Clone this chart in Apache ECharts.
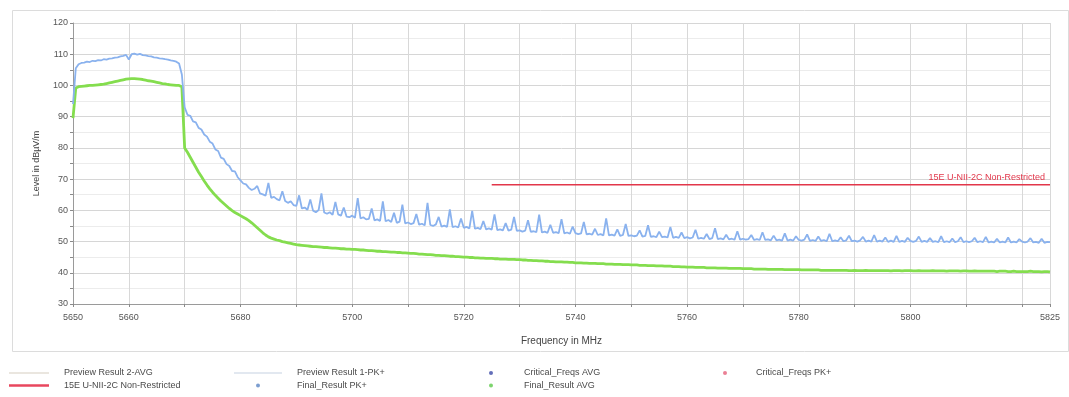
<!DOCTYPE html>
<html>
<head>
<meta charset="utf-8">
<script src="https://cdn.jsdelivr.net/npm/echarts@6/dist/echarts.min.js"></script>
<style>
  html, body { margin: 0; padding: 0; background: #ffffff; }
  #chart { width: 1069px; height: 397px; }
</style>
</head>
<body>
<div id="chart"></div>
<script>
// Frequency sweep grid (MHz): one sample every half megahertz
const freqStart = 5650;
const freqStep = 0.5;

// Labelled frequency ticks
const xTickLabels = [5650, 5660, 5680, 5700, 5720, 5740, 5760, 5780, 5800, 5825];

// Preview Result 1-PK+ (dBµV/m), 5650.0 ... 5825.0 MHz
const peakValues = [
  94.0, 105.5, 106.8, 107.2, 107.3, 107.6, 107.5, 107.9, 107.8, 108.1, 108.0, 108.4, 108.3, 108.6, 108.7, 108.9, 109.0, 109.3, 109.5, 109.8,
  108.3, 110.0, 110.2, 109.9, 110.1, 109.7, 109.6, 109.4, 109.3, 109.0, 108.9, 108.7, 108.6, 108.4, 108.3, 108.0, 107.9, 107.6, 107.0, 103.5,
  93.0, 90.6, 90.3, 88.5, 88.2, 86.4, 85.9, 84.3, 83.6, 82.0, 81.4, 79.5, 79.0, 76.9, 76.5, 74.8, 74.2, 72.6, 72.5, 70.6,
  69.6, 68.6, 68.3, 67.2, 66.5, 66.9, 67.8, 65.4, 65.1, 64.7, 68.8, 64.0, 64.3, 63.6, 63.2, 66.1, 63.0, 62.4, 62.9, 61.7,
  61.4, 64.8, 60.6, 60.9, 60.2, 63.5, 59.9, 59.4, 60.1, 65.4, 59.3, 58.9, 59.4, 58.6, 62.7, 58.7, 58.3, 60.9, 58.0, 57.8,
  58.3, 57.6, 63.9, 57.4, 57.8, 57.1, 57.3, 60.6, 56.8, 57.1, 56.6, 62.9, 56.5, 56.9, 56.3, 59.2, 56.0, 56.4, 61.8, 55.8,
  56.1, 55.6, 55.9, 58.8, 55.4, 55.7, 55.2, 62.4, 55.3, 55.0, 55.5, 57.9, 54.8, 55.1, 54.7, 60.3, 54.6, 54.9, 54.5, 57.4,
  54.4, 54.7, 54.2, 59.8, 54.1, 54.4, 54.0, 56.6, 53.9, 54.2, 53.8, 58.7, 53.7, 53.9, 53.6, 55.9, 53.5, 53.8, 57.9, 53.4,
  53.6, 53.2, 53.5, 56.8, 53.1, 53.3, 53.0, 58.6, 52.9, 53.2, 52.8, 55.4, 52.8, 53.0, 52.7, 57.2, 52.6, 52.9, 52.5, 54.8,
  52.7, 52.4, 52.6, 56.3, 52.3, 52.5, 52.2, 54.1, 52.1, 52.4, 52.0, 57.4, 52.0, 52.2, 51.9, 53.9, 51.8, 52.1, 55.6, 51.8,
  52.0, 51.7, 51.9, 53.6, 51.6, 51.8, 55.2, 51.5, 51.7, 51.4, 53.2, 51.4, 51.6, 51.3, 54.7, 51.2, 51.5, 51.2, 52.9, 51.1,
  51.4, 51.0, 51.3, 53.8, 50.9, 51.2, 50.9, 52.4, 50.8, 51.1, 54.3, 50.8, 51.0, 50.7, 52.2, 50.7, 50.9, 50.6, 53.3, 50.6,
  50.9, 50.6, 50.8, 52.1, 50.5, 50.8, 50.5, 53.0, 50.5, 50.7, 50.4, 51.9, 50.4, 50.6, 50.3, 52.6, 50.3, 50.6, 50.3, 51.7,
  50.5, 50.3, 50.6, 52.3, 50.2, 50.5, 50.2, 51.6, 50.2, 50.5, 50.1, 52.5, 50.1, 50.4, 50.1, 51.4, 50.1, 50.4, 51.9, 50.1,
  50.3, 50.0, 50.4, 51.5, 50.0, 50.3, 50.0, 52.1, 50.0, 50.3, 50.0, 51.3, 49.9, 50.3, 49.9, 51.8, 49.9, 50.2, 49.9, 51.2,
  50.2, 49.9, 50.2, 51.6, 49.9, 50.2, 49.9, 51.1, 49.9, 50.1, 49.8, 51.7, 49.8, 50.1, 49.8, 51.0, 49.8, 50.1, 51.4, 49.8,
  50.1, 49.8, 50.1, 51.2, 49.8, 50.1, 49.8, 51.5, 49.7, 50.0, 49.7, 50.9, 49.7, 50.0, 49.7, 51.3, 49.7, 50.0, 49.7, 50.8,
  50.0, 49.7, 50.0, 51.1, 49.7, 49.9, 49.6, 50.9, 49.6, 49.9, 49.8
];

// Preview Result 2-AVG (dBµV/m), 5650.0 ... 5825.0 MHz
const avgValues = [
  89.5, 99.2, 99.6, 99.7, 99.8, 99.9, 100.0, 100.0, 100.1, 100.2, 100.3, 100.4, 100.6, 100.8, 101.0, 101.2, 101.4, 101.6, 101.8, 102.0,
  102.1, 102.2, 102.2, 102.1, 102.0, 101.9, 101.7, 101.5, 101.4, 101.2, 101.0, 100.8, 100.6, 100.5, 100.3, 100.2, 100.1, 100.0, 100.0, 99.6,
  80.0, 78.6, 77.0, 75.4, 73.8, 72.2, 70.8, 69.4, 68.1, 66.9, 65.8, 64.8, 63.9, 63.0, 62.2, 61.4, 60.6, 59.9, 59.3, 58.8,
  58.3, 57.8, 57.3, 56.7, 56.0, 55.2, 54.4, 53.6, 52.8, 52.1, 51.5, 51.1, 50.8, 50.5, 50.3, 50.0, 49.8, 49.6, 49.4, 49.2,
  49.0, 48.9, 48.8, 48.7, 48.6, 48.5, 48.4, 48.4, 48.3, 48.2, 48.1, 48.1, 48.0, 47.9, 47.9, 47.8, 47.7, 47.7, 47.6, 47.6,
  47.5, 47.5, 47.4, 47.3, 47.3, 47.2, 47.1, 47.1, 47.0, 46.9, 46.9, 46.8, 46.8, 46.7, 46.6, 46.6, 46.5, 46.5, 46.4, 46.4,
  46.3, 46.2, 46.2, 46.1, 46.0, 46.0, 45.9, 45.8, 45.8, 45.7, 45.6, 45.6, 45.5, 45.5, 45.4, 45.3, 45.3, 45.2, 45.2, 45.1,
  45.0, 45.0, 44.9, 44.9, 44.8, 44.8, 44.7, 44.7, 44.6, 44.6, 44.6, 44.5, 44.5, 44.4, 44.4, 44.4, 44.3, 44.3, 44.3, 44.2,
  44.2, 44.1, 44.1, 44.0, 44.0, 43.9, 43.9, 43.8, 43.8, 43.7, 43.7, 43.6, 43.6, 43.5, 43.5, 43.5, 43.4, 43.4, 43.3, 43.3,
  43.2, 43.2, 43.2, 43.1, 43.1, 43.0, 43.0, 43.0, 42.9, 42.9, 42.9, 42.8, 42.8, 42.8, 42.7, 42.7, 42.7, 42.6, 42.6, 42.6,
  42.5, 42.5, 42.5, 42.4, 42.4, 42.4, 42.3, 42.3, 42.3, 42.2, 42.2, 42.2, 42.1, 42.1, 42.1, 42.0, 42.0, 42.0, 41.9, 41.9,
  41.8, 41.8, 41.8, 41.7, 41.7, 41.7, 41.7, 41.6, 41.6, 41.6, 41.6, 41.5, 41.5, 41.5, 41.5, 41.4, 41.4, 41.4, 41.4, 41.4,
  41.3, 41.3, 41.3, 41.3, 41.2, 41.2, 41.2, 41.2, 41.2, 41.1, 41.1, 41.1, 41.1, 41.1, 41.1, 41.0, 41.0, 41.0, 41.0, 41.0,
  41.0, 40.9, 40.9, 40.9, 40.9, 40.9, 40.9, 40.9, 40.8, 40.8, 40.8, 40.8, 40.8, 40.8, 40.8, 40.8, 40.8, 40.8, 40.7, 40.7,
  40.8, 40.7, 40.7, 40.7, 40.8, 40.7, 40.7, 40.7, 40.7, 40.7, 40.7, 40.7, 40.7, 40.6, 40.7, 40.7, 40.7, 40.6, 40.7, 40.7,
  40.7, 40.6, 40.6, 40.7, 40.6, 40.6, 40.6, 40.6, 40.7, 40.6, 40.6, 40.6, 40.6, 40.5, 40.6, 40.6, 40.6, 40.6, 40.5, 40.6,
  40.6, 40.5, 40.5, 40.6, 40.5, 40.5, 40.5, 40.5, 40.5, 40.5, 40.5, 40.4, 40.5, 40.5, 40.5, 40.4, 40.4, 40.5, 40.4, 40.4,
  40.4, 40.4, 40.4, 40.5, 40.4, 40.4, 40.4, 40.3, 40.4, 40.4, 40.3
];

// Limit line: 15E U-NII-2C Non-Restricted
const limitFreqs = [5725, 5825];
const limitValues = [68.2, 68.2];

// Final / critical frequency markers (none measured)
const finalPeak = [];
const finalAvg = [];
const criticalAvg = [];
const criticalPeak = [];

const LIMIT_NAME = '15E U-NII-2C Non-Restricted';

const toPairs = vals => vals.map((v, i) => [freqStart + i * freqStep, v]);

const limitData = limitFreqs.map((f, i) => {
  if (i === limitFreqs.length - 1) {
    return {
      value: [f, limitValues[i]],
      label: {
        show: true,
        position: 'left',
        distance: 5,
        offset: [0, -7],
        formatter: '{a}',
        color: '#e2364a',
        fontSize: 9,
        fontFamily: 'Liberation Sans, Arial, sans-serif'
      }
    };
  }
  return [f, limitValues[i]];
});

const fontFamily = 'Liberation Sans, Arial, sans-serif';
const legendText = { fontSize: 9, color: '#4a4a4a', fontFamily: fontFamily, lineHeight: 12 };
const lineIcon = 'path://M0,0H40V1H0Z';
const thickLineIcon = 'path://M0,0H40V2.4H0Z';

// Shared settings for the four legend columns
const legendBase = {
  orient: 'vertical',
  top: 367,
  padding: 0,
  itemGap: 0.5,
  itemHeight: 4,
  selectedMode: false
};

const chart = echarts.init(document.getElementById('chart'), null, { renderer: 'canvas' });

chart.setOption({
  animation: false,
  backgroundColor: '#ffffff',
  graphic: [
    {
      type: 'rect',
      left: 10, top: 8,
      shape: { width: 1056, height: 341 },
      style: { fill: 'none', stroke: '#dcdcdc', lineWidth: 1 },
      silent: true,
      z: -10
    }
  ],
  grid: { left: 73, right: 19, top: 23, bottom: 93, containLabel: false },
  xAxis: {
    type: 'value',
    min: 5650,
    max: 5825,
    interval: 10,
    name: 'Frequency in MHz',
    nameLocation: 'middle',
    nameGap: 32,
    nameTextStyle: { fontSize: 10, color: '#444', fontFamily: fontFamily },
    axisLine: { show: true, lineStyle: { color: '#9a9a9a', width: 1 } },
    axisTick: { show: true, length: 3, lineStyle: { color: '#8a8a8a' } },
    axisLabel: {
      showMinLabel: true,
      showMaxLabel: true,
      margin: 9,
      fontSize: 9,
      color: '#555',
      fontFamily: fontFamily,
      formatter: v => (xTickLabels.indexOf(v) >= 0 ? String(v) : '')
    },
    splitLine: { show: true, lineStyle: { color: '#d8d8d8', width: 1 } }
  },
  yAxis: {
    type: 'value',
    min: 30,
    max: 120,
    interval: 10,
    name: 'Level in dBµV/m',
    nameLocation: 'middle',
    nameGap: 32,
    nameTextStyle: { fontSize: 9, color: '#444', fontFamily: fontFamily },
    axisLine: { show: true, lineStyle: { color: '#9a9a9a', width: 1 } },
    axisTick: { show: true, length: 3, lineStyle: { color: '#8a8a8a' } },
    minorTick: { show: true, splitNumber: 2, length: 3, lineStyle: { color: '#8a8a8a' } },
    axisLabel: { margin: 5, fontSize: 9, color: '#555', fontFamily: fontFamily },
    splitLine: { show: true, lineStyle: { color: '#d6d6d6', width: 1 } },
    minorSplitLine: { show: true, lineStyle: { color: '#ececec', width: 1 } }
  },
  legend: [
    Object.assign({}, legendBase, {
      left: 9, itemWidth: 40,
      textStyle: Object.assign({ padding: [0, 0, 0, 10] }, legendText),
      data: [
        { name: 'Preview Result 2-AVG', icon: lineIcon, itemStyle: { color: '#d6cdbf' } },
        { name: LIMIT_NAME, icon: thickLineIcon, itemStyle: { color: '#e8475e' } }
      ]
    }),
    Object.assign({}, legendBase, {
      left: 234, itemWidth: 48,
      textStyle: Object.assign({ padding: [0, 0, 0, 10] }, legendText),
      data: [
        { name: 'Preview Result 1-PK+', icon: 'path://M0,0H48V1H0Z', itemStyle: { color: '#c6d2e2' } },
        { name: 'Final_Result PK+', icon: 'circle', itemStyle: { color: '#5b86c4' } }
      ]
    }),
    Object.assign({}, legendBase, {
      left: 489, itemWidth: 56,
      textStyle: legendText,
      data: [
        { name: 'Critical_Freqs AVG', icon: 'circle', itemStyle: { color: '#3c4aa8' } },
        { name: 'Final_Result AVG', icon: 'circle', itemStyle: { color: '#5cc94a' } }
      ]
    }),
    Object.assign({}, legendBase, {
      left: 723, itemWidth: 52,
      textStyle: legendText,
      data: [
        { name: 'Critical_Freqs PK+', icon: 'circle', itemStyle: { color: '#e5607a' } }
      ]
    })
  ],
  series: [
    {
      name: 'Preview Result 2-AVG',
      type: 'line',
      data: toPairs(avgValues),
      showSymbol: false,
      silent: true,
      lineStyle: { color: '#84dd4e', width: 2.8 },
      itemStyle: { color: '#84dd4e' },
      z: 2
    },
    {
      name: 'Preview Result 1-PK+',
      type: 'line',
      data: toPairs(peakValues),
      showSymbol: false,
      silent: true,
      lineStyle: { color: '#8ab2ee', width: 1.8 },
      itemStyle: { color: '#8ab2ee' },
      z: 3
    },
    {
      name: LIMIT_NAME,
      type: 'line',
      data: limitData,
      symbol: 'circle',
      symbolSize: 0,
      showSymbol: true,
      clip: false,
      silent: true,
      lineStyle: { color: '#e2364a', width: 1.6 },
      itemStyle: { color: '#e2364a' },
      z: 5
    },
    { name: 'Final_Result PK+', type: 'scatter', data: finalPeak, symbolSize: 4, itemStyle: { color: '#5b86c4' } },
    { name: 'Critical_Freqs AVG', type: 'scatter', data: criticalAvg, symbolSize: 4, itemStyle: { color: '#3c4aa8' } },
    { name: 'Final_Result AVG', type: 'scatter', data: finalAvg, symbolSize: 4, itemStyle: { color: '#5cc94a' } },
    { name: 'Critical_Freqs PK+', type: 'scatter', data: criticalPeak, symbolSize: 4, itemStyle: { color: '#e5607a' } }
  ]
});
</script>
</body>
</html>
